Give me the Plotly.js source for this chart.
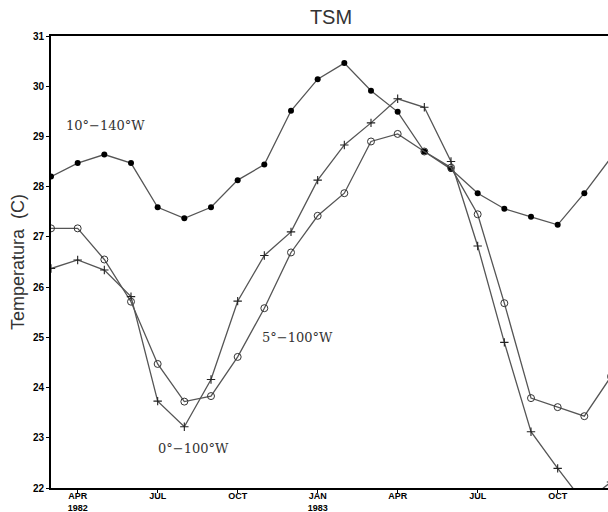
<!DOCTYPE html>
<html>
<head>
<meta charset="utf-8">
<script src="https://cdn.plot.ly/plotly-3.0.1.min.js"></script>
<style>
html,body{margin:0;padding:0;overflow:hidden;background:#fff;}
#chart{width:620px;height:512px;}
</style>
</head>
<body>
<div id="chart"></div>
<script>
// Monthly categories, Mar 1982 - Dec 1983
const months = ["1982-03","1982-04","1982-05","1982-06","1982-07","1982-08","1982-09","1982-10","1982-11","1982-12",
                "1983-01","1983-02","1983-03","1983-04","1983-05","1983-06","1983-07","1983-08","1983-09","1983-10","1983-11","1983-12"];
// 10°-140°W (filled circles)
const sst10_140 = [28.20,28.47,28.64,28.47,27.59,27.37,27.59,28.13,28.44,29.51,
                   30.14,30.46,29.91,29.49,28.70,28.35,27.87,27.56,27.40,27.24,27.87,28.58];
// 5°-100°W (open circles)
const sst5_100 = [27.17,27.17,26.55,25.71,24.47,23.72,23.83,24.61,25.58,26.69,
                  27.42,27.87,28.90,29.05,28.70,28.38,27.45,25.68,23.79,23.61,23.43,24.22];
// 0°-100°W (plus markers)
const sst0_100 = [26.37,26.54,26.34,25.81,23.73,23.22,24.16,25.72,26.63,27.10,
                  28.13,28.83,29.27,29.75,29.58,28.50,26.82,24.90,23.12,22.39,21.70,22.12];
// Tick labels
const tickMonths = ["1982-04","1982-07","1982-10","1983-01","1983-04","1983-07","1983-10"];
const tickLabels = ["APR<br>1982","JUL","OCT","JAN<br>1983","APR","JUL","OCT"];
const yTicks = [22,23,24,25,26,27,28,29,30,31];
const labels = ["10°−140°W","5°−100°W","0°−100°W"];

const lineCol = "#555555";
const traces = [
  {x: months, y: sst10_140, type: "scatter", mode: "lines+markers", name: labels[0],
   line: {color: lineCol, width: 1.3},
   marker: {symbol: "circle", size: 6, color: "#000", line: {width: 0}}},
  {x: months, y: sst5_100, type: "scatter", mode: "lines+markers", name: labels[1],
   line: {color: lineCol, width: 1.3},
   marker: {symbol: "circle-open", size: 7, color: "#333", line: {width: 1}}},
  {x: months, y: sst0_100, type: "scatter", mode: "lines+markers", name: labels[2],
   line: {color: lineCol, width: 1.3},
   marker: {symbol: "cross-thin-open", size: 6, color: "#222", line: {width: 1.1, color: "#222"}}}
];

const tickFont = {family: "Liberation Sans Narrow, Liberation Sans, Arial", size: 10, color: "#000", weight: "bold"};
const annFont = {family: "DejaVu Serif, Liberation Serif, serif", size: 13, color: "#333"};

const layout = {
  width: 620, height: 512,
  margin: {l: 51, r: 9, t: 36, b: 24},
  paper_bgcolor: "#fff", plot_bgcolor: "#fff",
  showlegend: false,
  title: {text: "TSM", x: 0.5, xref: "paper", xanchor: "center", y: 1 - 17/512, yanchor: "middle",
          font: {family: "Liberation Sans Narrow, Liberation Sans, Arial", size: 20, color: "#333"}},
  xaxis: {
    type: "category", categoryorder: "array", categoryarray: months,
    range: [0, months.length - 1],
    tickmode: "array", tickvals: tickMonths, ticktext: tickLabels,
    ticks: "outside", ticklen: 3, tickwidth: 1, tickcolor: "#000",
    ticklabelstandoff: -5,
    tickfont: {family: "Liberation Sans Narrow, Liberation Sans, Arial", size: 9, color: "#000", weight: "bold"},
    showgrid: false, zeroline: false,
    showline: true, linecolor: "#000", linewidth: 2, mirror: true,
    automargin: false
  },
  yaxis: {
    range: [22, 31],
    tickmode: "array", tickvals: yTicks,
    ticks: "outside", ticklen: 3, tickwidth: 1, tickcolor: "#000",
    tickfont: tickFont,
    showgrid: false, zeroline: false,
    showline: true, linecolor: "#000", linewidth: 2, mirror: true,
    title: {text: "Temperatura\u00a0 (C)", font: {family: "Liberation Sans, Arial", size: 18, color: "#333"}, standoff: 4},
    automargin: false
  },
  annotations: [
    {x: 2.06, y: 29.21, xref: "x", yref: "y", text: labels[0], showarrow: false, font: annFont},
    {x: 9.24, y: 24.99, xref: "x", yref: "y", text: labels[1], showarrow: false, font: annFont},
    {x: 5.34, y: 22.78, xref: "x", yref: "y", text: labels[2], showarrow: false, font: annFont}
  ]
};

Plotly.newPlot("chart", traces, layout, {displayModeBar: false, staticPlot: true});
</script>
</body>
</html>
